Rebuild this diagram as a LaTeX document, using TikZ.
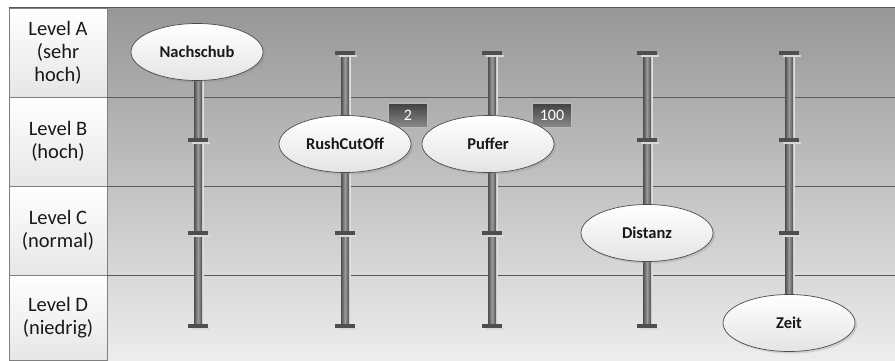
\documentclass[tikz,border=0pt]{standalone}
\usepackage{fontspec}
\setmainfont{Carlito}
\usetikzlibrary{shapes.geometric,shadows}
\definecolor{rowline}{HTML}{5A5A5A}
\definecolor{cellline}{HTML}{808080}
\definecolor{cellbot}{HTML}{E6E6E6}
\definecolor{bgtop}{HTML}{979797}
\definecolor{bgbot}{HTML}{EDEDED}
\definecolor{itembot}{HTML}{E4E4E4}
\definecolor{badgetop}{HTML}{404040}
\definecolor{badgebot}{HTML}{8A8A8A}
\definecolor{polemid}{HTML}{9A9A9A}
\definecolor{poleedge}{HTML}{4E4E4E}
\begin{document}
\begin{tikzpicture}[x=1pt,y=-1pt,
    level/.style={draw=cellline,line width=0.8pt,top color=white,bottom color=cellbot,
      minimum width=98pt,align=center,text=black!90,
      font=\fontsize{20.5}{23}\selectfont},
    item/.style={ellipse,draw=black!70,line width=0.7pt,top color=white,bottom color=itembot,
      minimum width=132pt,minimum height=57pt,inner sep=0pt,text=black!90,
      font=\bfseries\fontsize{16.5}{18}\selectfont,
      drop shadow={shadow xshift=2pt,shadow yshift=-2pt,opacity=0.25}},
    badge/.style={draw=gray!55,line width=0.8pt,top color=badgetop,bottom color=badgebot,
      minimum width=39pt,minimum height=24pt,inner sep=0pt,text=white,
      font=\fontsize{16}{18}\selectfont}]
  \useasboundingbox (0,0) rectangle (895,360);
  % background and rows
  \shade[top color=bgtop,bottom color=bgbot] (107,8) rectangle (895,360);
  \node[level,minimum height=89pt] (la) at (58,52.5) {Level A\\(sehr\\hoch)};
  \node[level,minimum height=89pt] (lb) at (58,141.5) {Level B\\(hoch)};
  \node[level,minimum height=89pt] (lc) at (58,230.5) {Level C\\(normal)};
  \node[level,minimum height=85pt] (ld) at (58,317.5) {Level D\\(niedrig)};
  \draw[rowline,line width=1.3pt] (la.north west) -- ++(886,0);
  \draw[rowline,line width=1.2pt] (la.south east) -- ++(788,0);
  \draw[rowline,line width=1.2pt] (lb.south east) -- ++(788,0);
  \draw[rowline,line width=1.2pt] (lc.south east) -- ++(788,0);
  % poles
  \foreach \x in {198,345,492,647,789} {
    \fill[gray!25] (\x+3,53) rectangle (\x+6,326);
    \shade[left color=poleedge,right color=poleedge,middle color=polemid] (\x-4,53) rectangle (\x+4,326);
    \foreach \y in {53,140,233,326} {
      \fill[gray!30] (\x-6,\y+2) rectangle (\x+12,\y+4);
      \fill[poleedge] (\x-10,\y-2) rectangle (\x+10,\y+2);
    }
  }
  % values
  \node[badge] (rushval) at (408,115) {2};
  \node[badge] (pufval) at (552,115) {100};
  % parameters
  \node[item] (nachschub) at (197,52) {Nachschub};
  \node[item] (rush) at (345,144) {RushCutOff};
  \node[item] (puffer) at (488,144) {Puffer};
  \node[item] (distanz) at (647,233) {Distanz};
  \node[item] (zeit) at (789,323) {Zeit};
\end{tikzpicture}
\end{document}
